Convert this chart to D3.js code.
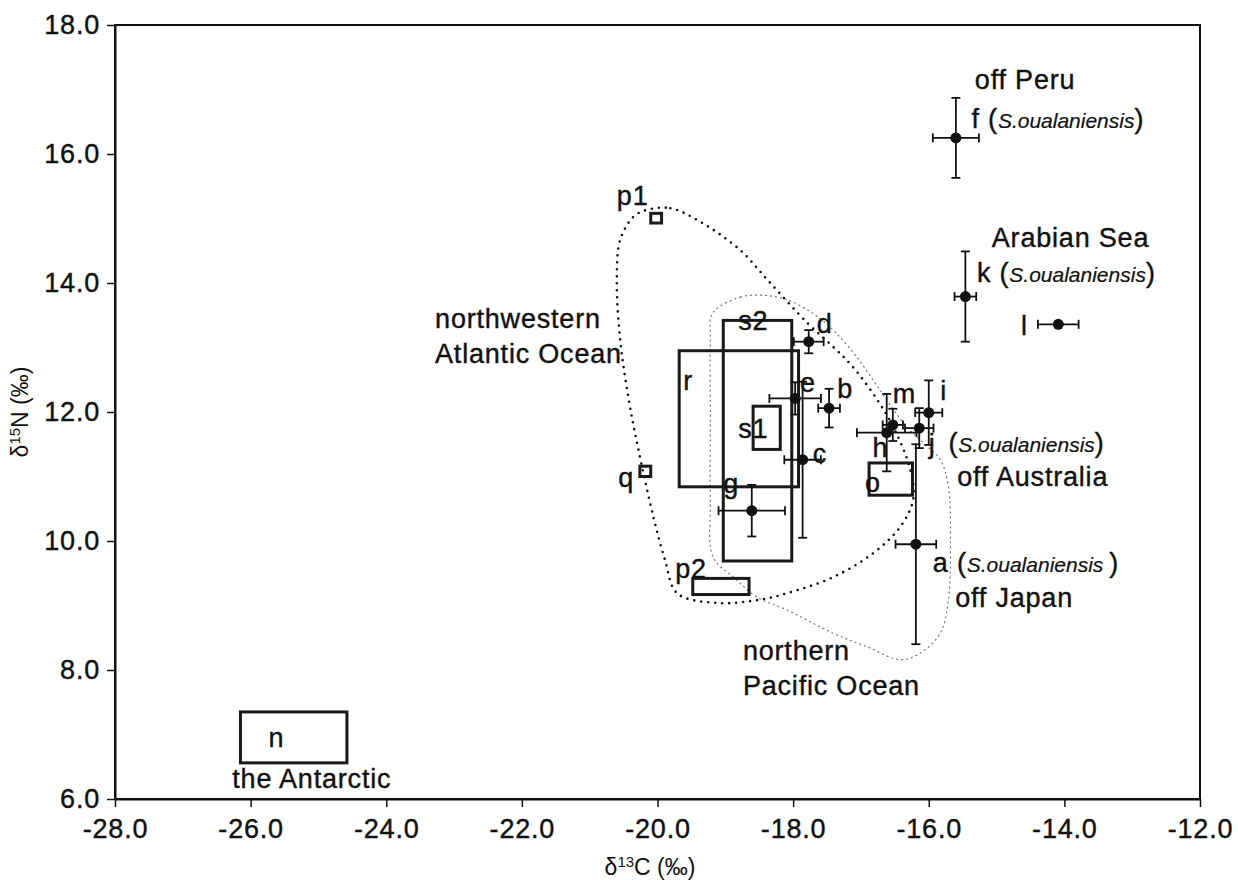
<!DOCTYPE html>
<html lang="en">
<head>
<meta charset="UTF-8">
<title>d13C vs d15N</title>
<script src="https://d3js.org/d3.v7.min.js"></script>
<style>
	body{margin:0;background:#fff;}
	text{font-family:"Liberation Sans",Arial,Helvetica,sans-serif;fill:#111;}
	.lab{font-size:27px;letter-spacing:0.8px;stroke:#111;stroke-width:0.4px;}
	.sp{font-size:21px;font-style:italic;letter-spacing:0;stroke-width:0.2px;}
	.box{fill:none;stroke:#1a1a1a;stroke-width:3;}
	.err{stroke:#111;stroke-width:1.8;}
</style>
</head>
<body>
<script>
// points with error bars (mean +- sd)
var ptNames = ["a","b","c","d","e","f","g","h","i","j","k","l","m"];
var ptX    = [-16.19,-17.47,-17.86,-17.77,-17.97,-15.60,-18.61,-16.62,-16.00,-16.14,-15.46,-14.09,-16.53];
var ptY    = [9.95,12.06,11.26,13.09,12.21,16.25,10.47,11.68,11.99,11.75,13.79,13.36,11.80];
var ptXerr = [0.30,0.16,0.27,0.22,0.38,0.34,0.49,0.44,0.20,0.21,0.16,0.30,0.15];
var ptYerr = [1.55,0.30,1.21,0.18,0.25,0.62,0.40,0.60,0.50,0.31,0.70,0,0.25];

// ranges shown as boxes
var boxNames = ["n","o","p1","p2","q","r","s1","s2"];
var boxX0 = [-26.15,-16.88,-20.10,-19.48,-20.26,-19.68,-18.59,-19.03];
var boxX1 = [-24.58,-16.24,-19.94,-18.65,-20.10,-17.92,-18.19,-18.02];
var boxY0 = [6.56,10.71,14.93,9.17,11.00,10.84,11.42,9.69];
var boxY1 = [7.35,11.21,15.08,9.42,11.16,12.95,12.09,13.42];

// northwestern Atlantic outline
var atlX = [-20.17,-19.81,-19.37,-18.78,-18.38,-17.79,-17.41,-17.12,-16.76,-16.50,-16.27,-16.23,-16.42,-16.82,-17.41,-18.09,-18.49,-19.12,-19.71,-19.89,-20.06,-20.29,-20.43,-20.55,-20.60,-20.55,-20.36];
var atlY = [15.13,15.16,14.95,14.51,14.05,13.38,13.01,12.70,12.19,11.72,11.10,10.64,10.22,9.81,9.44,9.19,9.09,9.04,9.19,9.71,10.37,11.46,12.23,13.12,14.05,14.67,15.02];

// northern Pacific outline
var pacX = [-19.19,-18.78,-18.44,-18.09,-17.71,-17.41,-17.06,-16.72,-16.35,-16.08,-15.83,-15.71,-15.68,-15.71,-15.83,-16.13,-16.42,-16.91,-17.41,-18.09,-18.53,-18.88,-19.18,-19.22,-19.22,-19.22];
var pacY = [13.53,13.78,13.81,13.74,13.53,13.27,12.85,12.34,11.80,11.52,11.26,10.84,10.02,9.09,8.57,8.26,8.16,8.36,8.57,8.93,9.13,9.44,9.75,10.64,11.88,13.12];

// annotations, anchored in data units; text between | is italic
var labText = ["off Peru","f (|S.oualaniensis|)","Arabian Sea","k (|S.oualaniensis|)","l",
	"d","e","b","c","r","s2","s1","g","m","i","h","j","(|S.oualaniensis|)","off Australia","o",
	"a (|S.oualaniensis |)","off Japan","northern","Pacific Ocean","northwestern","Atlantic Ocean",
	"p1","q","p2","n","the Antarctic"];
var labX = [-15.32,-15.37,-15.07,-15.29,-14.64,
	-17.65,-17.90,-17.35,-17.71,-19.62,-18.81,-18.81,-19.03,-16.53,-15.83,-16.83,-16.00,-15.71,-15.58,-16.94,
	-15.94,-15.61,-18.74,-18.74,-23.28,-23.28,
	-20.60,-20.58,-19.74,-25.62,-26.27];
var labY = [17.01,16.40,14.56,14.02,13.19,
	13.22,12.31,12.22,11.21,12.34,13.27,11.60,10.74,12.14,12.19,11.30,11.36,11.38,10.86,10.76,
	9.52,8.98,8.16,7.61,13.30,12.76,
	15.21,10.84,9.43,6.81,6.17];

var xTicks = [-28,-26,-24,-22,-20,-18,-16,-14,-12];
var yTicks = [6,8,10,12,14,16,18];

var W = 1238, H = 880;
var x = d3.scaleLinear().domain([-28,-12]).range([115,1200]);
var y = d3.scaleLinear().domain([6,18]).range([799,25]);

var svg = d3.select("body").append("svg").attr("width",W).attr("height",H);

// frame
svg.append("rect").attr("x",x(-28)).attr("y",y(18))
	.attr("width",x(-12)-x(-28)).attr("height",y(6)-y(18))
	.attr("fill","none").attr("stroke","#111").attr("stroke-width",2);

var fmt = function(d){ return d.toFixed(1); };
var gx = svg.append("g").attr("transform","translate(0,"+y(6)+")")
	.call(d3.axisBottom(x).tickValues(xTicks).tickFormat(fmt).tickSize(8).tickSizeOuter(0).tickPadding(12));
var gy = svg.append("g").attr("transform","translate("+x(-28)+",0)")
	.call(d3.axisLeft(y).tickValues(yTicks).tickFormat(fmt).tickSize(8).tickSizeOuter(0).tickPadding(7));
[gx,gy].forEach(function(g){
	g.attr("font-size",null).attr("font-family",null);
	g.select(".domain").attr("stroke","#111").attr("stroke-width",2);
	g.selectAll(".tick line").attr("stroke","#111").attr("stroke-width",1.5);
	g.selectAll(".tick text").attr("class","lab").attr("fill","#111");
});

// outlines
var pts = function(xs,ys){ return xs.map(function(v,i){ return [x(v),y(ys[i])]; }); };
var outline = d3.line().curve(d3.curveCatmullRomClosed.alpha(0.5));
svg.append("path").attr("d",outline(pts(pacX,pacY)))
	.attr("fill","none").attr("stroke","#777").attr("stroke-width",1.2).attr("stroke-dasharray","2 3");
svg.append("path").attr("d",outline(pts(atlX,atlY)))
	.attr("fill","none").attr("stroke","#111").attr("stroke-width",2.6)
	.attr("stroke-linecap","round").attr("stroke-dasharray","0 7");

// boxes
boxNames.forEach(function(nm,i){
	svg.append("rect").attr("class","box")
		.attr("x",x(boxX0[i])).attr("y",y(boxY1[i]))
		.attr("width",x(boxX1[i])-x(boxX0[i])).attr("height",y(boxY0[i])-y(boxY1[i]))
		.attr("stroke-width",(x(boxX1[i])-x(boxX0[i]))<20 ? 2.5 : 3);
});

// error bars and means
var cap = 4.5;
ptNames.forEach(function(nm,i){
	var cx = x(ptX[i]), cy = y(ptY[i]);
	var g = svg.append("g");
	var xl = x(ptX[i]-ptXerr[i]), xr = x(ptX[i]+ptXerr[i]);
	g.append("line").attr("class","err").attr("x1",xl).attr("x2",xr).attr("y1",cy).attr("y2",cy);
	g.append("line").attr("class","err").attr("x1",xl).attr("x2",xl).attr("y1",cy-cap).attr("y2",cy+cap);
	g.append("line").attr("class","err").attr("x1",xr).attr("x2",xr).attr("y1",cy-cap).attr("y2",cy+cap);
	if (ptYerr[i] > 0) {
		var yt = y(ptY[i]+ptYerr[i]), yb = y(ptY[i]-ptYerr[i]);
		g.append("line").attr("class","err").attr("x1",cx).attr("x2",cx).attr("y1",yt).attr("y2",yb);
		g.append("line").attr("class","err").attr("x1",cx-cap).attr("x2",cx+cap).attr("y1",yt).attr("y2",yt);
		g.append("line").attr("class","err").attr("x1",cx-cap).attr("x2",cx+cap).attr("y1",yb).attr("y2",yb);
	}
	g.append("circle").attr("cx",cx).attr("cy",cy).attr("r",5.5).attr("fill","#111");
});

// annotations
labText.forEach(function(t,i){
	var txt = svg.append("text").attr("class","lab")
		.attr("x",x(labX[i])).attr("y",y(labY[i]));
	if (t === "n") txt.attr("text-anchor","middle");
	t.split("|").forEach(function(part,k){
		txt.append("tspan").attr("class",k % 2 ? "sp" : null).text(part);
	});
});

// axis titles
var xt = svg.append("text").attr("x",650).attr("y",875).attr("text-anchor","middle").style("font-size","23px");
xt.append("tspan").text("\u03b4");
xt.append("tspan").attr("dy",-8).style("font-size","15px").text("13");
xt.append("tspan").attr("dy",8).text("C (\u2030)");

var yt = svg.append("text").attr("transform","translate(28,412) rotate(-90)").attr("text-anchor","middle").style("font-size","23px");
yt.append("tspan").text("\u03b4");
yt.append("tspan").attr("dy",-8).style("font-size","15px").text("15");
yt.append("tspan").attr("dy",8).text("N (\u2030)");
</script>
</body>
</html>
